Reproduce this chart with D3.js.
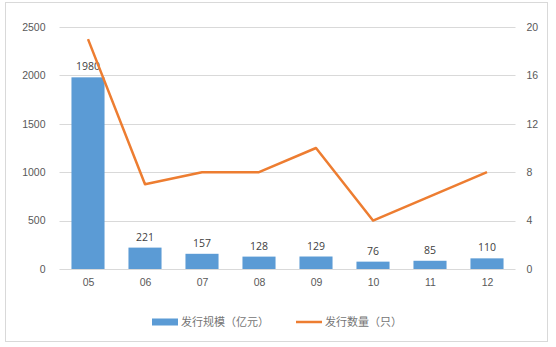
<!DOCTYPE html>
<html>
<head>
<meta charset="utf-8">
<script src="https://cdn.jsdelivr.net/npm/d3@7"></script>
<style>
  body { margin: 0; background: #fff; }
  svg { font-family: "Open Sans", "Liberation Sans", "Noto Sans CJK SC", sans-serif; }
  .tick text { fill: #595959; font-size: 10.5px; }
</style>
</head>
<body>
<div id="chart"></div>
<script>
const months = ['05', '06', '07', '08', '09', '10', '11', '12'];
const amount = [1980, 221, 157, 128, 129, 76, 85, 110];
const count = [19, 7, 8, 8, 10, 4, 6, 8];
const leftTicks = [0, 500, 1000, 1500, 2000, 2500];
const rightTicks = [0, 4, 8, 12, 16, 20];

const W = 556, H = 347;
const margin = { top: 27, right: 40.5, bottom: 78, left: 59.5 };
const width = W - margin.left - margin.right;
const height = H - margin.top - margin.bottom;

const svg = d3.select('#chart').append('svg')
  .attr('width', W)
  .attr('height', H);

// outer frame
svg.append('rect')
  .attr('x', 5.5).attr('y', 2.5)
  .attr('width', 542).attr('height', 339)
  .attr('fill', 'none')
  .attr('stroke', '#d9d9d9');

const g = svg.append('g')
  .attr('transform', `translate(${margin.left}, ${margin.top})`);

const x = d3.scaleBand().domain(months).range([0, width]).paddingInner(0.42).paddingOuter(0.21);
const xp = d3.scalePoint().domain(months).range([0, width]).padding(0.5);
const y = d3.scaleLinear().domain([0, 2500]).range([height, 0]);
const y2 = d3.scaleLinear().domain([0, 20]).range([height, 0]);

// gridlines
g.selectAll('.grid')
  .data(leftTicks)
  .enter().append('line')
  .attr('x1', 0).attr('x2', width)
  .attr('y1', d => Math.round(y(d)) + 0.5)
  .attr('y2', d => Math.round(y(d)) + 0.5)
  .attr('stroke', '#d9d9d9');

// left axis
g.append('g')
  .call(d3.axisLeft(y).tickValues(leftTicks).tickSize(0).tickPadding(14).tickFormat(d3.format('d')))
  .call(a => a.select('.domain').remove());

// right axis
g.append('g')
  .attr('transform', `translate(${width}, 0)`)
  .call(d3.axisRight(y2).tickValues(rightTicks).tickSize(0).tickPadding(11).tickFormat(d3.format('d')))
  .call(a => a.select('.domain').remove());

// x axis
g.append('g')
  .attr('transform', `translate(0, ${height})`)
  .call(d3.axisBottom(xp).tickSize(0).tickPadding(10))
  .call(a => a.select('.domain').remove());

// bars
g.selectAll('.bar')
  .data(amount)
  .enter().append('rect')
  .attr('class', 'bar')
  .attr('x', (d, i) => xp(months[i]) - x.bandwidth() / 2)
  .attr('width', x.bandwidth())
  .attr('y', d => y(d))
  .attr('height', d => height - y(d))
  .attr('fill', '#5b9bd5');

// bar labels
g.selectAll('.lbl')
  .data(amount)
  .enter().append('text')
  .attr('x', (d, i) => xp(months[i]))
  .attr('y', d => y(d) - 7)
  .attr('text-anchor', 'middle')
  .attr('fill', '#404040')
  .style('font-size', '10.5px')
  .text(d => d);

// line
const line = d3.line()
  .x((d, i) => xp(months[i]))
  .y(d => y2(d));

g.append('path')
  .datum(count)
  .attr('d', line)
  .attr('fill', 'none')
  .attr('stroke', '#ed7d31')
  .attr('stroke-width', 2.5)
  .attr('stroke-linejoin', 'round');

// legend
const legend = svg.append('g').attr('transform', 'translate(0, 322)');
legend.append('rect')
  .attr('x', 152).attr('y', -3.5)
  .attr('width', 26).attr('height', 7)
  .attr('fill', '#5b9bd5');
legend.append('text')
  .attr('x', 181).attr('y', 4)
  .attr('fill', '#757575')
  .style('font-size', '11px')
  .style('font-family', '"Noto Sans CJK SC", sans-serif')
  .text('发行规模（亿元）');
legend.append('line')
  .attr('x1', 296).attr('x2', 322)
  .attr('y1', 0).attr('y2', 0)
  .attr('stroke', '#ed7d31')
  .attr('stroke-width', 2.5);
legend.append('text')
  .attr('x', 325).attr('y', 4)
  .attr('fill', '#757575')
  .style('font-size', '11px')
  .style('font-family', '"Noto Sans CJK SC", sans-serif')
  .text('发行数量（只）');
</script>
</body>
</html>
